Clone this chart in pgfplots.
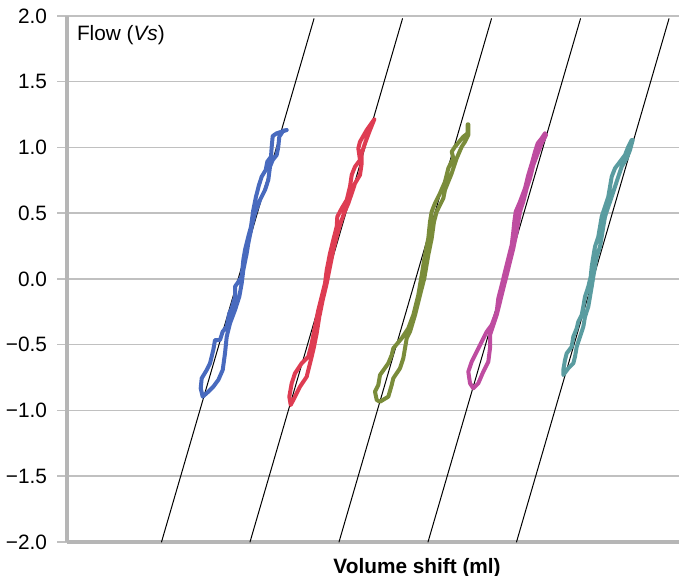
\documentclass[border=0pt]{standalone}
\usepackage{fontspec}
\setmainfont{Liberation Sans}
\usepackage{pgfplots}
\pgfplotsset{compat=1.18}

\definecolor{cblue}{RGB}{72,106,190}
\definecolor{cred}{RGB}{222,60,82}
\definecolor{cgreen}{RGB}{122,140,58}
\definecolor{cmag}{RGB}{190,76,160}
\definecolor{cteal}{RGB}{90,156,160}
\definecolor{gridgrey}{RGB}{192,192,192}
\definecolor{axgrey}{RGB}{182,182,182}

\begin{document}
\begin{tikzpicture}[font=\fontsize{10.4}{12.5}\selectfont]
\begin{axis}[
    scale only axis,
    width=306pt, height=263pt,
    xmin=0, xmax=612, ymin=-2, ymax=2,
    axis lines=left,
    axis line style={-, draw=axgrey, line width=2pt},
    xtick=\empty,
    ytick={-2,-1.5,-1,-0.5,0,0.5,1,1.5,2},
    yticklabels={−2.0,−1.5,−1.0,−0.5,0.0,0.5,1.0,1.5,2.0},
    yticklabel style={inner sep=0pt, xshift=-5pt},
    tick align=outside,
    major tick length=4.8pt,
    major tick style={draw=gridgrey, line width=0.75pt},
    ymajorgrids,
    grid style={draw=gridgrey, line width=0.75pt},
    xlabel={\bfseries Volume shift (ml)},
    xlabel style={at={(axis description cs:0.572,0)}, anchor=base, yshift=-16pt},
    every axis plot/.append style={line join=round, line cap=round},
    clip=false,
]
% isovolume reference lines
\addplot[black, line width=0.5pt] coordinates {(94.5,-2) (247,1.98)};
\addplot[black, line width=0.5pt] coordinates {(183,-2) (335.5,1.98)};
\addplot[black, line width=0.5pt] coordinates {(272,-2) (424.5,1.98)};
\addplot[black, line width=0.5pt] coordinates {(361,-2) (513.5,1.98)};
\addplot[black, line width=0.5pt] coordinates {(449.5,-2) (602,1.98)};

% flow-volume loops
\addplot[cblue, line width=2pt] coordinates {
(219.7,1.133) (209.7,1.108) (205.7,1.087) (204.7,1.006) (204.0,0.930)
(200.3,0.892) (198.7,0.829) (194.7,0.778) (192.0,0.715) (189.0,0.626)
(186.3,0.525) (184.0,0.398) (181.3,0.322) (178.0,0.221) (176.3,0.144)
(174.7,0.018) (170.3,-0.033) (168.0,-0.058) (168.0,-0.134) (164.7,-0.223)
(162.3,-0.261) (159.7,-0.362) (155.7,-0.400) (153.0,-0.464) (148.0,-0.464)
(146.3,-0.540) (143.0,-0.641) (139.7,-0.692) (134.7,-0.755) (133.7,-0.831)
(135.7,-0.895) (141.3,-0.857) (146.3,-0.819) (151.3,-0.768) (155.7,-0.692)
(158.0,-0.565) (159.7,-0.439) (163.0,-0.337) (168.0,-0.236) (172.3,-0.134)
(174.7,-0.033) (176.3,0.068) (179.7,0.195) (181.3,0.271) (184.7,0.398)
(188.0,0.499) (193.0,0.601) (198.0,0.677) (201.3,0.753) (203.0,0.854)
(205.7,0.905) (209.7,0.943) (211.3,1.006) (212.3,1.082) (216.3,1.128)
(219.7,1.133)};

\addplot[cred, line width=2pt] coordinates {
(307.3,1.214) (299.7,1.133) (293.0,1.044) (291.3,0.994) (293.0,0.905)
(288.0,0.854) (284.7,0.791) (283.0,0.702) (279.7,0.601) (274.7,0.537)
(270.3,0.474) (269.7,0.398) (266.3,0.297) (263.0,0.195) (259.7,0.068)
(258.0,-0.033) (254.7,-0.134) (251.3,-0.236) (248.0,-0.362) (244.7,-0.489)
(241.3,-0.591) (234.7,-0.641) (228.0,-0.717) (224.7,-0.793) (222.3,-0.895)
(223.7,-0.958) (228.0,-0.895) (233.0,-0.819) (239.7,-0.743) (243.0,-0.641)
(246.3,-0.540) (249.7,-0.413) (252.3,-0.287) (255.7,-0.160) (259.7,-0.033)
(263.0,0.094) (266.3,0.221) (269.7,0.322) (273.0,0.411) (277.0,0.499)
(281.3,0.575) (284.7,0.651) (288.0,0.727) (293.0,0.791) (294.7,0.880)
(294.7,0.956) (298.0,1.032) (303.0,1.133) (307.3,1.214)};

\addplot[cgreen, line width=2pt] coordinates {
(400.7,1.176) (400.7,1.108) (396.3,1.082) (388.0,1.006) (384.7,0.968)
(386.3,0.918) (381.3,0.842) (378.0,0.740) (373.0,0.652) (368.0,0.576)
(364.7,0.512) (363.0,0.436) (361.3,0.309) (358.0,0.183) (354.7,0.030)
(351.3,-0.122) (346.3,-0.274) (341.3,-0.375) (334.7,-0.451) (326.3,-0.527)
(324.7,-0.578) (321.3,-0.641) (313.0,-0.730) (311.3,-0.806) (308.0,-0.857)
(309.7,-0.920) (313.0,-0.933) (321.3,-0.895) (324.7,-0.806) (326.3,-0.755)
(333.0,-0.679) (336.3,-0.603) (338.0,-0.527) (339.7,-0.451) (343.0,-0.401)
(348.0,-0.274) (353.0,-0.122) (357.3,0.005) (361.3,0.183) (364.7,0.309)
(367.0,0.436) (369.7,0.512) (373.0,0.563) (376.3,0.613) (378.0,0.677)
(381.3,0.740) (384.7,0.804) (388.0,0.880) (389.7,0.918) (394.7,1.006)
(398.0,1.044) (401.3,1.095) (401.3,1.176)};

\addplot[cmag, line width=2pt] coordinates {
(478.0,1.108) (474.7,1.070) (470.7,1.032) (468.0,0.968) (465.3,0.892)
(461.3,0.791) (458.0,0.690) (453.0,0.588) (448.7,0.512) (447.3,0.436)
(446.3,0.360) (444.7,0.259) (441.3,0.157) (438.0,0.056) (434.7,-0.046)
(431.3,-0.147) (429.7,-0.249) (424.7,-0.350) (419.7,-0.401) (414.7,-0.477)
(409.7,-0.553) (404.7,-0.629) (401.3,-0.705) (403.0,-0.793) (406.3,-0.831)
(411.3,-0.793) (416.3,-0.705) (421.3,-0.629) (423.0,-0.527) (423.0,-0.426)
(426.3,-0.350) (429.7,-0.274) (433.0,-0.173) (436.3,-0.071) (439.7,0.030)
(443.0,0.132) (446.3,0.233) (449.7,0.360) (451.3,0.436) (453.0,0.512)
(456.3,0.588) (459.7,0.690) (463.0,0.766) (466.3,0.867) (471.3,0.968)
(474.7,1.032) (479.0,1.095)};

\addplot[cteal, line width=2pt] coordinates {
(564.7,1.057) (561.3,1.006) (558.0,0.943) (553.0,0.892) (548.0,0.842)
(544.7,0.778) (543.0,0.702) (541.3,0.626) (538.0,0.550) (534.7,0.474)
(533.0,0.398) (531.3,0.322) (528.0,0.246) (526.3,0.170) (524.7,0.094)
(523.7,0.018) (521.3,-0.058) (518.0,-0.134) (516.3,-0.210) (514.7,-0.274)
(511.3,-0.324) (509.7,-0.375) (506.3,-0.439) (504.7,-0.515) (499.7,-0.565)
(498.0,-0.616) (496.3,-0.692) (496.3,-0.730) (501.3,-0.679) (506.3,-0.641)
(508.0,-0.591) (509.7,-0.515) (513.0,-0.439) (516.3,-0.363) (518.0,-0.287)
(521.3,-0.210) (523.0,-0.134) (524.7,-0.058) (526.3,0.018) (528.0,0.094)
(529.7,0.170) (533.0,0.246) (534.7,0.322) (536.3,0.398) (538.0,0.474)
(541.3,0.550) (544.7,0.626) (548.0,0.702) (551.3,0.778) (554.7,0.854)
(559.7,0.918) (563.0,0.981) (565.7,1.057)};

\node[anchor=base west, inner sep=0pt, xshift=4.8pt, yshift=-12.3pt]
  at (rel axis cs:0,1) {Flow (\textit{Vs})};
\coordinate (sw) at (rel axis cs:0,0);
\coordinate (ne) at (rel axis cs:1,1);
\end{axis}
\pgfresetboundingbox
\path (sw) ++(-33.5pt,-17pt) rectangle ([yshift=8pt]ne);
\end{tikzpicture}
\end{document}
